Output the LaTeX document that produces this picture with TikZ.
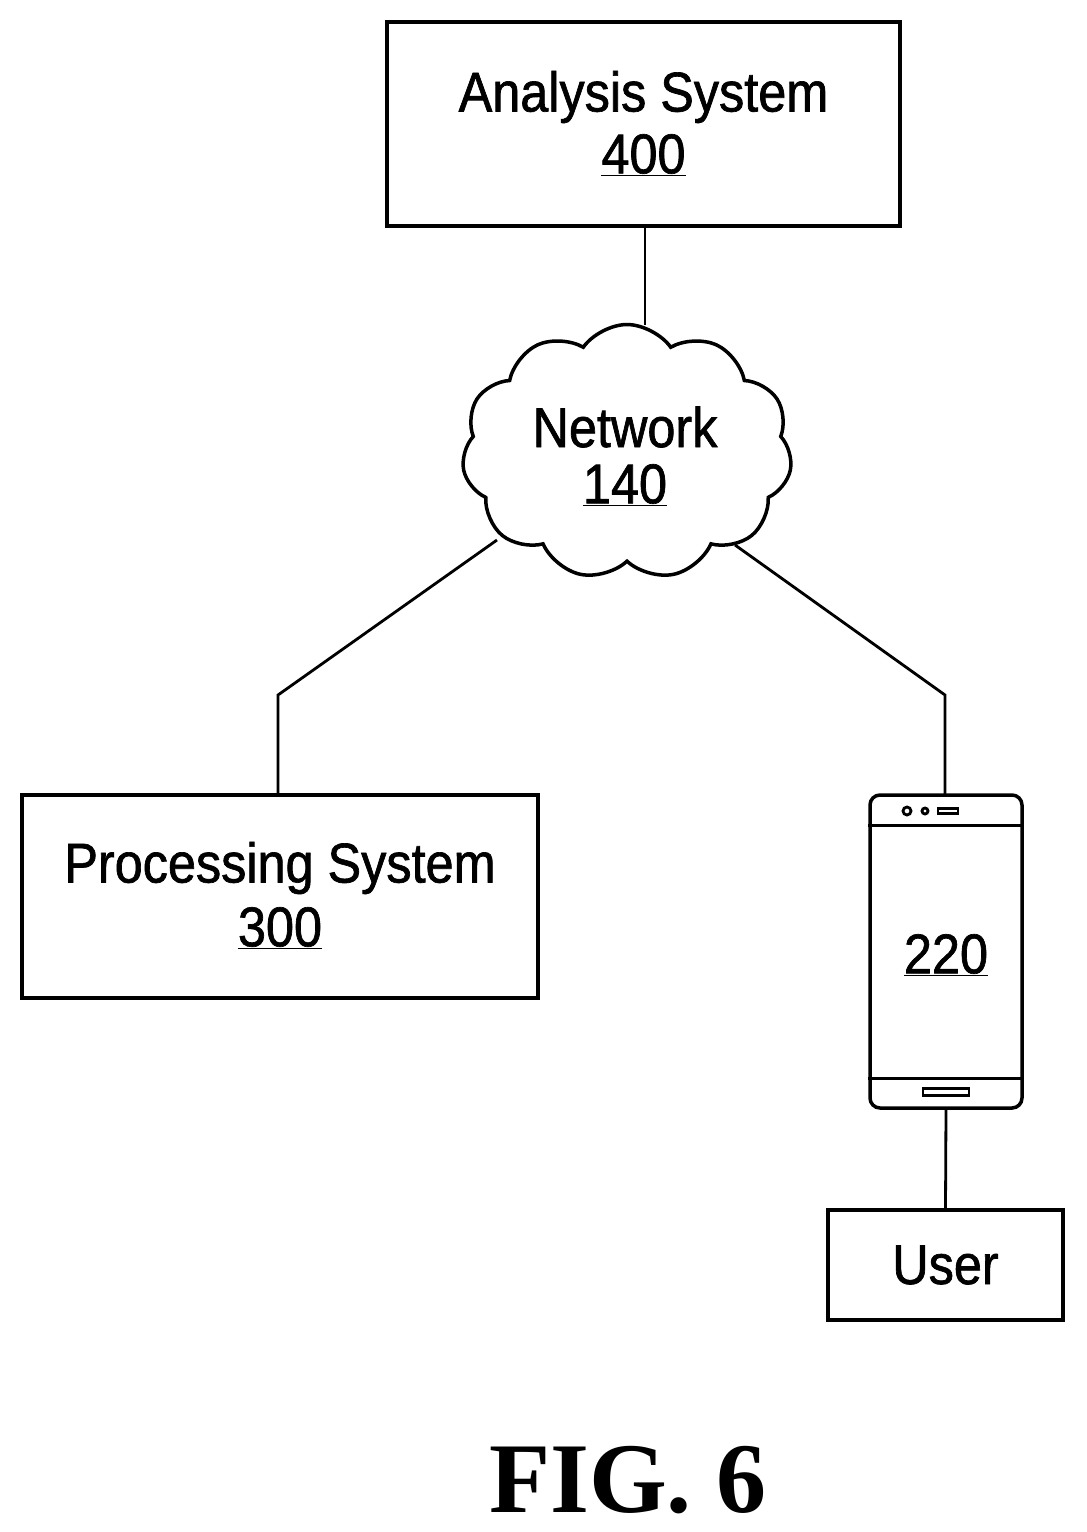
\documentclass[tikz,border=0pt]{standalone}
\usepackage{fontspec}
\setmainfont{Liberation Serif}
\newfontfamily\lbl[FakeStretch=0.9,FakeBold=1.2]{Liberation Sans}
\usetikzlibrary{shapes.symbols}
\begin{document}
\begin{tikzpicture}[x=1pt,y=-1pt,line width=3.5pt,
 box/.style={draw,rectangle,inner sep=0pt},
 txt/.style={font=\lbl\fontsize{56}{64}\selectfont,align=center,inner sep=0pt},
 ln/.style={line width=2.8pt}]
\useasboundingbox (0,0) rectangle (1087,1532);
\node[box,minimum width=513,minimum height=204] (an) at (643.5,124) {};
\node[txt] (ant) at (643.5,97) {Analysis System};
\node[txt] (ann) at (643.5,155) {\underline{400}};
\node[draw,cloud,cloud puffs=11,cloud puff arc=110,aspect=1.3,minimum width=330,minimum height=255,inner sep=0pt] (net) at (627,452) {};
\node[txt] (nt) at (625,427) {Network};
\node[txt] (nn) at (625,485) {\underline{140}};
\node[box,minimum width=516,minimum height=203] (ps) at (280,896.5) {};
\node[txt] (pst) at (280,868) {Processing System};
\node[txt] (psn) at (280,928) {\underline{300}};
\node[draw,rectangle,rounded corners=10,minimum width=152,minimum height=313,inner sep=0pt] (ph) at (946,951.5) {};
\draw[ln] ([yshift=-32]ph.north west) -- ([yshift=-32]ph.north east);
\draw[ln] ([yshift=31]ph.south west) -- ([yshift=31]ph.south east);
\node[draw,circle,ln,minimum size=8,inner sep=0pt] (d1) at (907,811) {};
\node[draw,circle,ln,minimum size=6,inner sep=0pt] (d2) at (925,811) {};
\node[draw,rectangle,ln,minimum width=20,minimum height=5,inner sep=0pt] (sl) at (948,811) {};
\node[draw,rectangle,ln,minimum width=46,minimum height=7,inner sep=0pt] (hb) at (946,1092) {};
\node[txt] (pn) at (946,955) {\underline{220}};
\node[box,minimum width=235,minimum height=110] (us) at (945.5,1265) {};
\node[txt] (ut) at (945.5,1265) {User};
\node[font=\bfseries\fontsize{100}{110}\selectfont,inner sep=0pt] (fig) at (628,1480) {FIG. 6};
\coordinate (c1) at (645,325);
\coordinate (c2) at (497,540);
\coordinate (c3) at (735,545);
\draw[ln] (an.south -| c1) -- (c1);
\draw[ln] (c2) -- (278,695) -- (278,795);
\draw[ln] (c3) -- (945,695) -- (945,795);
\draw[ln] (ph.south) -- (us.north);
\end{tikzpicture}
\end{document}
